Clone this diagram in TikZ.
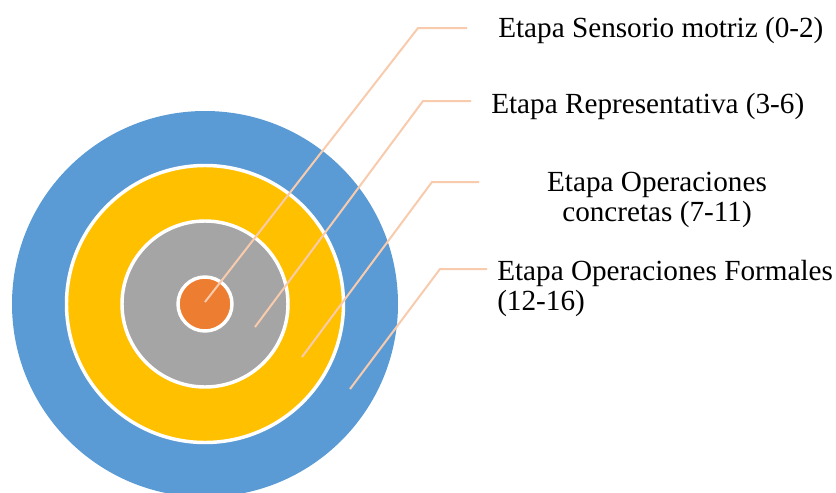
\documentclass[tikz,border=0pt]{standalone}
\usepackage{fontspec}
\setmainfont{Liberation Serif}
\definecolor{azul}{HTML}{5B9BD5}
\definecolor{amarillo}{HTML}{FFC000}
\definecolor{gris}{HTML}{A5A5A5}
\definecolor{naranja}{HTML}{ED7D31}
\definecolor{guia}{HTML}{F8CBAD}
\begin{document}
\begin{tikzpicture}[x=0.75pt,y=-0.75pt,
    ring/.style={circle,draw=white,line width=2.6pt,inner sep=0pt},
    guide/.style={draw=guia,line width=1.5pt},
    etapa/.style={font=\fontsize{21.9}{22.3}\selectfont,inner sep=0pt}]
            \useasboundingbox (0,0) rectangle (836,493);
            \coordinate (c) at (205,304);
            % circulos
            \node[ring,draw=none,fill=azul,minimum size=289.5pt] (formal) at (c) {};
            \node[ring,fill=amarillo,minimum size=207.75pt] (concreta) at (c) {};
            \node[ring,fill=gris,minimum size=124.5pt] (repr) at (c) {};
            \node[ring,fill=naranja,minimum size=40.5pt] (sensor) at (c) {};
            % etiquetas
            \node[etapa,anchor=base west] (l1) at (498,37) {Etapa Sensorio motriz (0-2)};
            \node[etapa,anchor=base west] (l2) at (491,113) {Etapa Representativa (3-6)};
            \node[etapa,align=center,anchor=base] (l3) at (657,221.5) {Etapa Operaciones\\concretas (7-11)};
            \node[etapa,align=left,anchor=base west] (l4) at (497,310) {Etapa Operaciones Formales\\(12-16)};
            % lineas guia
            \coordinate (s1) at (205,302);
            \coordinate (k1) at (418,28);
            \coordinate (e1) at (467,28);
            \coordinate (s2) at (255,327);
            \coordinate (k2) at (423,101);
            \coordinate (e2) at (471,101);
            \coordinate (s3) at (302,357);
            \coordinate (k3) at (432,182);
            \coordinate (e3) at (479,182);
            \coordinate (s4) at (350,389);
            \coordinate (k4) at (440,269);
            \coordinate (e4) at (487,269);
            \draw[guide] (s1) -- (k1) -- (e1);
            \draw[guide] (s2) -- (k2) -- (e2);
            \draw[guide] (s3) -- (k3) -- (e3);
            \draw[guide] (s4) -- (k4) -- (e4);
\end{tikzpicture}
\end{document}
